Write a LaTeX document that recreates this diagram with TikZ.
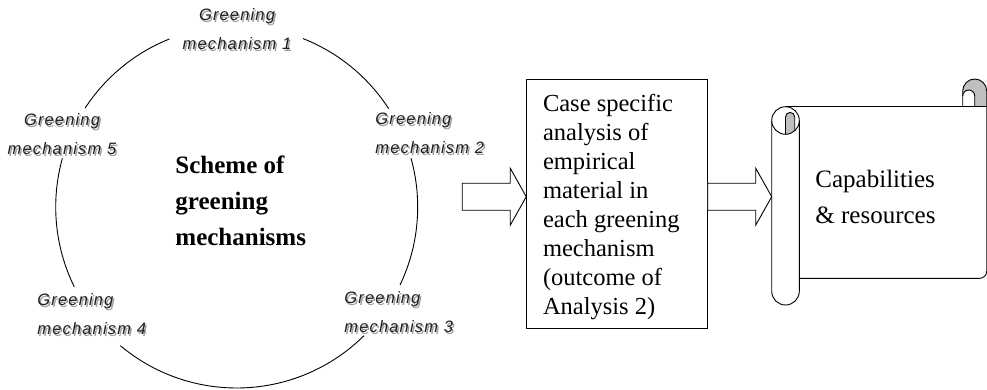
\documentclass[tikz,border=0pt]{standalone}
\usepackage{fontspec}
\setmainfont{Liberation Serif}
\newfontfamily\gmfont[LetterSpace=7]{Liberation Sans}
\usepackage{xcolor}
\usepackage{tikz}
\usetikzlibrary{calc}

% soft grey copy behind each label line
\newcommand\shd[1]{\makebox[0pt][l]{\hspace*{1.5pt}\raisebox{-1.5pt}{\textcolor{black!38}{#1}}}#1}

\begin{document}
\begin{tikzpicture}[x=1pt, y=1pt, line width=0.9pt,
  gm/.style={font=\gmfont\itshape\fontsize{16.5}{29}\selectfont, text=black!88, inner sep=0pt},
  hollow arrow/.pic={\draw[fill=white] (-64,13.5) -- (-16,13.5) -- (-16,28.5) -- (0,0)
    -- (-16,-28.5) -- (-16,-13.5) -- (-64,-13.5) -- cycle;}]
  \useasboundingbox (0,0) rectangle (987,389);

  % ring of mechanisms
  \coordinate (hub) at (236.7,182);
  \foreach \a/\b in {32.9/68.5, 111.8/146.9, 164.4/206.2, 230/314.7, -25.5/15.6}
    \draw (hub) ++(\a:181) arc[start angle=\a, end angle=\b, radius=181];

  \node[gm, align=center] (gm1) at (237,359) {\shd{Greening}\\\shd{mechanism 1}};
  \node[gm, align=left, anchor=west] (gm2) at (375,255) {\shd{Greening}\\\shd{mechanism 2}};
  \node[gm, align=left, anchor=west] (gm3) at (344,76) {\shd{Greening}\\\shd{mechanism 3}};
  \node[gm, align=left, anchor=west] (gm4) at (37,74) {\shd{Greening}\\\shd{mechanism 4}};
  \node[gm, align=center] (gm5) at (62,254) {\shd{Greening}\\\shd{mechanism 5}};

  \node[anchor=north west, inner sep=0pt, align=left, font=\bfseries\fontsize{25}{36}\selectfont]
    (scheme) at (175,233.3) {Scheme of\\greening\\mechanisms};

  % analysis box
  \node[draw, minimum width=181pt, minimum height=249pt, inner xsep=16.3pt, inner ysep=0pt,
    text width=148.4pt, text height=23pt, align=flush left, font=\fontsize{24.5}{29}\selectfont]
    (analysis) at (617.2,185.2) {Case specific\\analysis of\\empirical\\material in\\each greening\\mechanism\\(outcome of\\Analysis 2)};

  \pic at ($(analysis.west)+(0,7.1)$) {hollow arrow};

  % scroll
  \coordinate (roll) at (771.7,192.3);
  \fill[white] (785.5,282.3) rectangle (986.7,110.7);
  \fill[black!25] (962.7,298) arc[start angle=180, end angle=0, radius=12]
    -- (986.7,282.3) -- (974.7,282.3) -- (974.7,293)
    arc[start angle=0, end angle=180, radius=6] -- cycle;
  \draw (962.7,282.3) -- (962.7,298) arc[start angle=180, end angle=0, radius=12]
    -- (986.7,117.7) arc[start angle=0, end angle=-90, radius=7] -- (799.3,110.7);
  \draw (974.7,282.3) -- (974.7,293) arc[start angle=0, end angle=180, radius=6];
  \draw (785.5,282.3) -- (986.7,282.3);
  \fill[white] (771.7,268.5) rectangle (799.3,97.8);
  \draw (771.7,268.5) -- (771.7,97.8) arc[start angle=180, end angle=360, radius=13.8] -- (799.3,268.5);
  \begin{scope}
    \clip (785.5,268.5) circle[radius=13.8];
    \fill[black!25] (785.5,250) -- (785.5,272) arc[start angle=180, end angle=0, radius=4.6]
      -- (794.7,250) -- cycle;
  \end{scope}
  \draw (785.5,268.5) circle[radius=13.8];
  \draw (785.5,254.7) -- (785.5,272) arc[start angle=180, end angle=0, radius=4.6] -- (794.7,258.2);

  \node[anchor=north west, inner sep=0pt, align=left, font=\fontsize{25}{36}\selectfont]
    (capab) at (815,219) {Capabilities\\\& resources};

  \pic at (roll) {hollow arrow};
\end{tikzpicture}
\end{document}
